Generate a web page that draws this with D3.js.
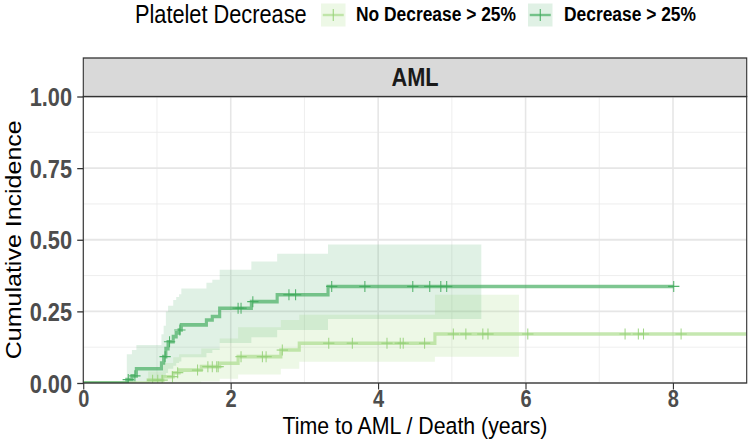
<!DOCTYPE html>
<html>
<head>
<meta charset="utf-8">
<script src="https://cdn.jsdelivr.net/npm/d3@7"></script>
<style>
  body { margin: 0; background: #fff; }
  text { font-family: "Liberation Sans", Arial, sans-serif; }
</style>
</head>
<body>
<svg id="chart"></svg>
<script>
// series (time in years, cumulative incidence)
const groups = ['No Decrease > 25%', 'Decrease > 25%'];

const noDecTime  = [0, 0.88, 1.08, 1.22, 1.30, 1.60, 1.85, 2.10, 2.68, 2.93, 4.77];
const noDecEst   = [0, 0.010, 0.022, 0.036, 0.045, 0.057, 0.069, 0.092, 0.115, 0.139, 0.171];
const noDecUpper = [0, 0.040, 0.070, 0.090, 0.100, 0.120, 0.155, 0.195, 0.220, 0.238, 0.308];
const noDecLower = [0, 0, 0, 0, 0, 0.005, 0.015, 0.030, 0.050, 0.074, 0.092];
const noDecEnd = 9.3, noDecBandEnd = 5.91;
const noDecCensor = [0.94, 1.01, 1.07, 1.21, 1.28, 1.55, 1.69, 1.75, 1.81, 1.83, 2.14, 2.43, 2.48,
  2.70, 3.33, 3.65, 4.12, 4.30, 4.34, 4.63, 5.02, 5.19, 5.42, 5.49, 6.03, 7.35, 7.53, 7.60, 8.11];

const decTime  = [0, 0.59, 0.66, 0.72, 1.06, 1.09, 1.12, 1.15, 1.22, 1.26, 1.30, 1.33, 1.67, 1.75, 1.85, 2.28, 2.63, 3.32];
const decEst   = [0, 0.012, 0.025, 0.050, 0.070, 0.092, 0.120, 0.144, 0.162, 0.175, 0.185, 0.203, 0.220, 0.232, 0.261, 0.284, 0.308, 0.337];
const decUpper = [0, 0.100, 0.115, 0.133, 0.170, 0.200, 0.250, 0.270, 0.290, 0.300, 0.310, 0.330, 0.350, 0.360, 0.395, 0.424, 0.451, 0.483];
const decLower = [0, 0, 0, 0.005, 0.010, 0.020, 0.035, 0.050, 0.060, 0.070, 0.075, 0.090, 0.105, 0.115, 0.140, 0.160, 0.185, 0.223];
const decEnd = 8.01, decBandEnd = 5.40;
const decCensor = [0.61, 0.70, 1.11, 1.17, 1.31, 2.10, 2.14, 2.30, 2.79, 2.88, 3.37, 3.82, 4.47, 4.70, 4.85, 4.93, 8.01];

const xTicks = [0, 2, 4, 6, 8];
const yTicks = [0, 0.25, 0.5, 0.75, 1];

// the reference is squeezed horizontally, so draw in a wider box
const SX = 0.87;
const W = 749 / SX, H = 443;

const svg = d3.select('#chart')
  .attr('width', 749).attr('height', H)
  .attr('viewBox', `0 0 ${W} ${H}`)
  .attr('preserveAspectRatio', 'none');

const x = d3.scaleLinear().domain([0, 9]).range([83.3 / SX, 746.7 / SX]);
const y = d3.scaleLinear().domain([0, 1]).range([383, 96.5]);

const pl = x.range()[0], pr = x.range()[1], pt = y(1), pb = y(0);

svg.append('defs').append('clipPath').attr('id', 'clip')
  .append('rect').attr('x', pl).attr('y', pt).attr('width', pr - pl).attr('height', pb - pt);

// grid
const grid = svg.append('g');
grid.selectAll('.xmin').data([1, 3, 5, 7]).join('line')
  .attr('x1', d => x(d)).attr('x2', d => x(d)).attr('y1', pt).attr('y2', pb)
  .attr('stroke', '#ebebeb').attr('stroke-width', 0.9);
grid.selectAll('.ymin').data([0.125, 0.375, 0.625, 0.875]).join('line')
  .attr('x1', pl).attr('x2', pr).attr('y1', d => y(d)).attr('y2', d => y(d))
  .attr('stroke', '#ebebeb').attr('stroke-width', 0.9);
grid.selectAll('.xmaj').data(xTicks).join('line')
  .attr('x1', d => x(d)).attr('x2', d => x(d)).attr('y1', pt).attr('y2', pb)
  .attr('stroke', '#e6e6e6').attr('stroke-width', 1.8);
grid.selectAll('.ymaj').data(yTicks).join('line')
  .attr('x1', pl).attr('x2', pr).attr('y1', d => y(d)).attr('y2', d => y(d))
  .attr('stroke', '#e6e6e6').attr('stroke-width', 1.8);

function stepPts(times, vals, end) {
  const p = times.map((t, i) => [t, vals[i]]);
  p.push([end, vals[vals.length - 1]]);
  return p;
}
function bandPts(times, lo, hi, end) {
  const p = times.map((t, i) => ({ t, lo: lo[i], hi: hi[i] }));
  p.push({ t: end, lo: lo[lo.length - 1], hi: hi[hi.length - 1] });
  return p;
}
function valueAt(times, vals, t) {
  const i = d3.bisectRight(times, t) - 1;
  return vals[Math.max(0, i)];
}

const series = [
  { time: noDecTime, est: noDecEst, lo: noDecLower, hi: noDecUpper, end: noDecEnd, bandEnd: noDecBandEnd,
    censor: noDecCensor, color: '#addd8e', mark: '#97d27a', bandOp: 0.22, lineOp: 0.7 },
  { time: decTime, est: decEst, lo: decLower, hi: decUpper, end: decEnd, bandEnd: decBandEnd,
    censor: decCensor, color: '#41ab5d', mark: '#41ab5d', bandOp: 0.16, lineOp: 0.68 }
];

const plot = svg.append('g').attr('clip-path', 'url(#clip)');

const area = d3.area().curve(d3.curveStepAfter)
  .x(d => x(d.t)).y0(d => y(d.lo)).y1(d => y(d.hi));
const line = d3.line().curve(d3.curveStepAfter)
  .x(d => x(d[0])).y(d => y(d[1]));

series.forEach(s => {
  plot.append('path')
    .datum(bandPts(s.time.slice(1), s.lo.slice(1), s.hi.slice(1), s.bandEnd))
    .attr('fill', s.color).attr('fill-opacity', s.bandOp).attr('d', area);
});

series.forEach(s => {
  plot.append('path')
    .datum(stepPts(s.time, s.est, s.end))
    .attr('fill', 'none').attr('stroke', s.color).attr('stroke-opacity', s.lineOp)
    .attr('stroke-width', 3.6).attr('d', line);
  const g = plot.append('g').attr('stroke', s.mark).attr('stroke-width', 1.2).attr('stroke-opacity', 0.9);
  s.censor.forEach(t => {
    const cx = x(t), cy = y(valueAt(s.time, s.est, t));
    g.append('line').attr('x1', cx).attr('x2', cx).attr('y1', cy - 5.5).attr('y2', cy + 5.5);
    g.append('line').attr('x1', cx - 6.5).attr('x2', cx + 6.5).attr('y1', cy).attr('y2', cy);
  });
});

// panel border
svg.append('rect').attr('x', pl).attr('y', pt).attr('width', pr - pl).attr('height', pb - pt)
  .attr('fill', 'none').attr('stroke', '#333').attr('stroke-width', 1.3);

// strip
svg.append('rect').attr('x', pl).attr('y', 58).attr('width', pr - pl).attr('height', pt - 58)
  .attr('fill', '#d9d9d9').attr('stroke', '#333').attr('stroke-width', 1.3);
svg.append('text').attr('x', (pl + pr) / 2).attr('y', 86.4)
  .attr('text-anchor', 'middle').attr('font-size', 25).attr('font-weight', 'bold')
  .attr('fill', '#1a1a1a').text('AML');

// axes
const xAxis = svg.append('g').attr('transform', `translate(0,${pb})`)
  .call(d3.axisBottom(x).tickValues(xTicks).tickFormat(d3.format('d')).tickSize(6.5).tickPadding(2));
const yAxis = svg.append('g').attr('transform', `translate(${pl},0)`)
  .call(d3.axisLeft(y).tickValues(yTicks).tickFormat(d3.format('.2f')).tickSize(7).tickPadding(6));
[xAxis, yAxis].forEach(a => {
  a.select('.domain').remove();
  a.selectAll('.tick line').attr('stroke', '#333').attr('stroke-width', 1.3);
  a.selectAll('.tick text').attr('fill', '#4d4d4d').attr('font-size', 25)
    .attr('font-weight', 'bold').attr('font-family', '"Liberation Sans", Arial, sans-serif');
});
yAxis.selectAll('.tick text').attr('dy', '0.36em');
xAxis.selectAll('.tick text').attr('dy', '0.68em').attr('font-size', 23);

svg.append('text').attr('x', (pl + pr) / 2).attr('y', 434)
  .attr('text-anchor', 'middle').attr('font-size', 24.5).attr('fill', '#000')
  .text('Time to AML / Death (years)');
svg.append('text').attr('transform', `translate(${20.5 / SX},${(pt + pb) / 2}) rotate(-90)`)
  .attr('text-anchor', 'middle').attr('font-size', 25).attr('fill', '#000')
  .text('Cumulative Incidence');

// legend
const leg = svg.append('g');
leg.append('text').attr('x', 135 / SX).attr('y', 23).attr('font-size', 25).attr('fill', '#000')
  .text('Platelet Decrease');
const keyX = [321 / SX, 528 / SX], labX = [356 / SX, 564 / SX], keyW = 24.5 / SX;
series.forEach((s, i) => {
  const k = leg.append('g');
  k.append('rect').attr('x', keyX[i]).attr('y', 3.5).attr('width', keyW).attr('height', 23)
    .attr('fill', s.color).attr('fill-opacity', s.bandOp);
  k.append('line').attr('x1', keyX[i] + 2).attr('x2', keyX[i] + keyW - 2).attr('y1', 15).attr('y2', 15)
    .attr('stroke', s.color).attr('stroke-opacity', s.lineOp).attr('stroke-width', 2.4);
  k.append('line').attr('x1', keyX[i] + keyW / 2).attr('x2', keyX[i] + keyW / 2).attr('y1', 9).attr('y2', 21)
    .attr('stroke', s.mark).attr('stroke-width', 1.2);
  leg.append('text').attr('x', labX[i]).attr('y', 21.5).attr('font-size', 20).attr('font-weight', 'bold')
    .attr('fill', '#000').text(groups[i]);
});
</script>
</body>
</html>
